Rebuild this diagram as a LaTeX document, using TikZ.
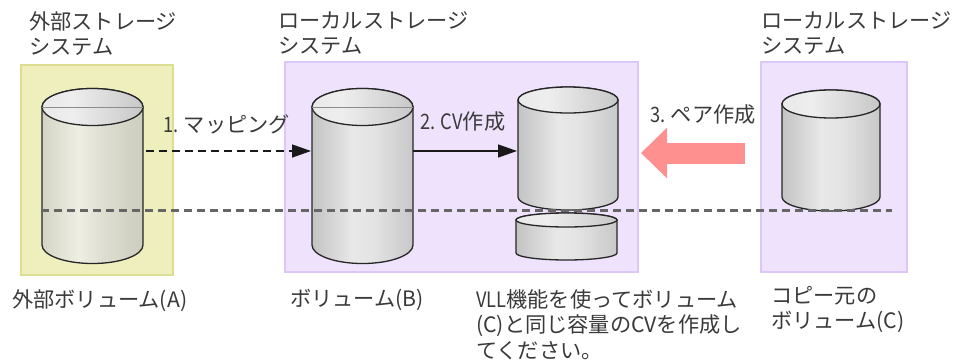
\documentclass[tikz,border=0pt]{standalone}
\usepackage{fontspec}
\setmainfont{Noto Sans CJK JP}[Scale=1]
\newfontfamily\narrowlatin{Noto Sans CJK JP}[FakeStretch=0.86]
\newcommand{\nl}[1]{{\narrowlatin #1}}
\usetikzlibrary{arrows.meta}
\definecolor{txt}{HTML}{3A3A3A}
\definecolor{extfill}{HTML}{EFEFBE}
\definecolor{extedge}{HTML}{DEDE90}
\definecolor{locfill}{HTML}{EFE2FD}
\definecolor{locedge}{HTML}{DCC6FA}
\definecolor{pinkarrow}{HTML}{FF9090}
\pgfdeclarehorizontalshading{graybody}{100bp}{color(0bp)=(rgb,255:red,150;green,150;blue,150);color(25bp)=(rgb,255:red,195;green,195;blue,195);color(45bp)=(rgb,255:red,232;green,232;blue,232);color(55bp)=(rgb,255:red,228;green,228;blue,228);color(75bp)=(rgb,255:red,200;green,200;blue,200);color(100bp)=(rgb,255:red,150;green,150;blue,150)}
\pgfdeclarehorizontalshading{olivebody}{100bp}{color(0bp)=(rgb,255:red,175;green,175;blue,160);color(25bp)=(rgb,255:red,212;green,212;blue,198);color(43bp)=(rgb,255:red,238;green,238;blue,226);color(55bp)=(rgb,255:red,222;green,222;blue,210);color(75bp)=(rgb,255:red,205;green,205;blue,190);color(100bp)=(rgb,255:red,170;green,170;blue,155)}
\pgfdeclarehorizontalshading{graylid}{100bp}{color(0bp)=(rgb,255:red,225;green,225;blue,225);color(40bp)=(rgb,255:red,238;green,238;blue,238);color(70bp)=(rgb,255:red,205;green,205;blue,205);color(100bp)=(rgb,255:red,165;green,165;blue,165)}
\tikzset{
  lbl/.style={font=\fontsize{21.2pt}{25.6pt}\selectfont, text=txt, anchor=north west, align=left, inner sep=0pt},
  extbox/.style={fill=extfill, draw=extedge, line width=1.5pt},
  locbox/.style={fill=locfill, draw=locedge, line width=1.5pt},
  cyledge/.style={draw=black!85, line width=1.3pt},
  flow/.style={draw=black!90, line width=1.4pt, -{Triangle[length=19pt,width=13pt]}},
  dashedflow/.style={flow, dash pattern=on 8pt off 5pt},
  levelline/.style={draw=black!60, line width=3pt, dash pattern=on 8pt off 5pt},
  pairarrow/.style={draw=pinkarrow, line width=21pt, -{Triangle[length=26pt,width=49pt,fill=pinkarrow]}},
}
\newcommand{\cylinder}[7]{%
  \path[shading=#7, cyledge] (#2,#4) -- (#2,#5) arc[start angle=180,end angle=0,x radius={(#3-#2)/2},y radius=#6] -- (#3,#4) arc[start angle=0,end angle=-180,x radius={(#3-#2)/2},y radius=#6] -- cycle;
  \path[shading=graylid, cyledge] ({(#2+#3)/2},#4) ellipse[x radius={(#3-#2)/2},y radius=#6];
  \coordinate (#1-w) at (#2,{(#4+#5)/2});
  \coordinate (#1-e) at (#3,{(#4+#5)/2});
}
\begin{document}
\begin{tikzpicture}[x=1pt,y=-1pt]
\useasboundingbox (0,0) rectangle (958,362);
\fill[white] (0,0) rectangle (958,362);
\path[extbox] (21,65) rectangle (173,275);
\path[locbox] (285,62) rectangle (638,272);
\path[locbox] (761,62) rectangle (907,272);
\cylinder{a}{42}{143}{107}{245}{18.5}{olivebody}
\draw[draw=black!45, line width=0.8pt] (42,107) -- (143,107);
\cylinder{b}{312}{413}{107}{245}{18.5}{graybody}
\draw[draw=black!45, line width=0.8pt] (312,107) -- (413,107);
\cylinder{c}{518}{618}{100}{197}{13}{graybody}
\cylinder{d}{516}{617}{220}{253}{7}{graybody}
\cylinder{s}{782}{880}{104}{197}{14}{graybody}
\coordinate (astart) at (146,151);
\coordinate (bend) at (311,151);
\draw[dashedflow] (astart) -- (bend);
\coordinate (bstart) at (413,151);
\coordinate (cend) at (517,151);
\draw[flow] (bstart) -- (cend);
\coordinate (lvlL) at (41,210);
\coordinate (lvlR) at (892,210);
\draw[levelline] (lvlL) -- (lvlR);
\coordinate (pairs) at (745,153);
\coordinate (paire) at (641,153);
\draw[pairarrow] (pairs) -- (paire);
\node[lbl] (t1) at (29,11) {外部ストレージ\\システム};
\node[lbl] (t2) at (278,11) {ローカルストレージ\\システム};
\node[lbl] (t3) at (761,11) {ローカルストレージ\\システム};
\node[lbl] (l1) at (163,114) {\nl{1. }マッピング};
\node[lbl] (l2) at (420,112) {\nl{2. CV}作成};
\node[lbl] (l3) at (650,105) {\nl{3. }ペア作成};
\node[lbl] (c1) at (12,289) {外部ボリューム(A)};
\node[lbl] (c2) at (290,289) {ボリューム(B)};
\node[lbl] (c3) at (476,289) {\nl{VLL}機能を使ってボリューム\\(C)と同じ容量のCVを作成し\\てください。};
\node[lbl] (c4) at (771,286) {コピー元の\\ボリューム(C)};
\end{tikzpicture}
\end{document}
